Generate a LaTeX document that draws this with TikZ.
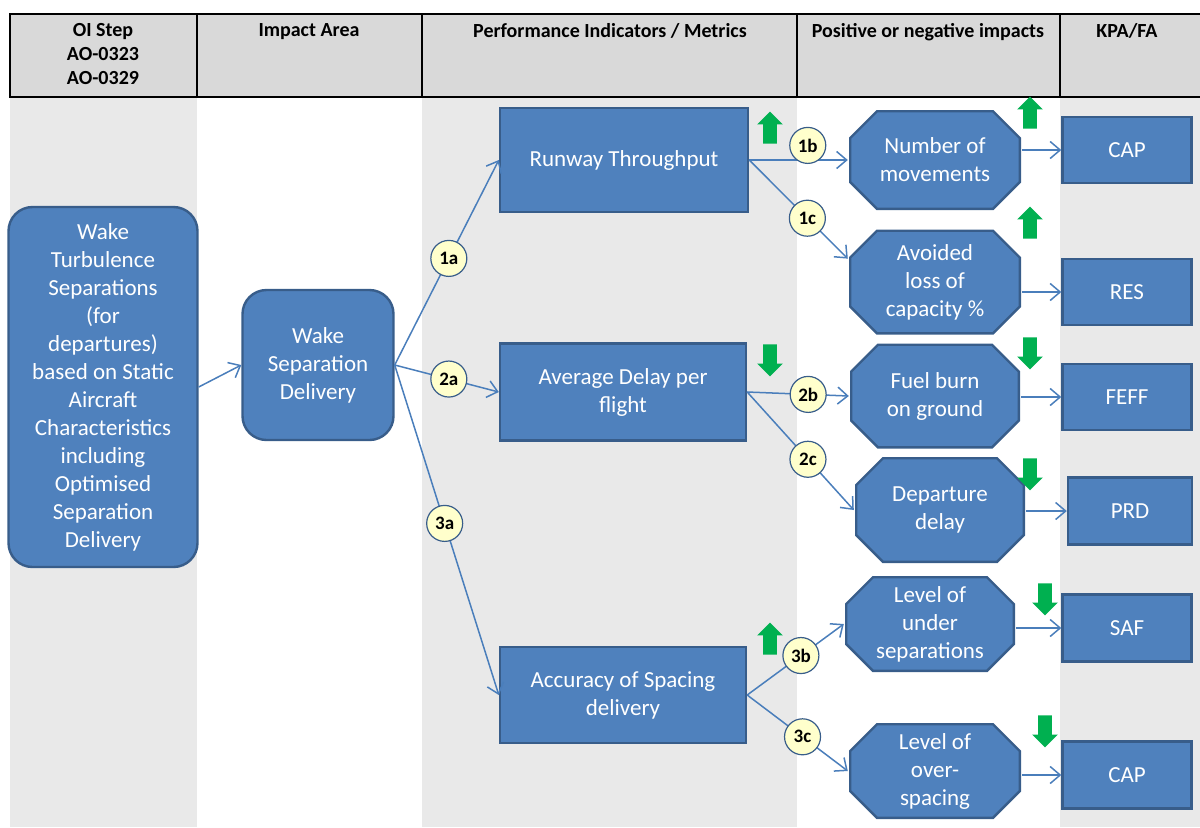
\documentclass[tikz,border=0pt]{standalone}
\usepackage{fontspec}
\setmainfont{Carlito}
\usetikzlibrary{arrows.meta,shapes.arrows}

\definecolor{boxblue}{HTML}{4F81BD}
\definecolor{boxline}{HTML}{385D8A}
\definecolor{linkblue}{HTML}{4A7EBB}
\definecolor{numfill}{HTML}{FFFFCC}
\definecolor{upgreen}{HTML}{00B050}
\definecolor{bandgray}{HTML}{E9E9E9}
\definecolor{headgray}{HTML}{D9D9D9}

\begin{document}
\begin{tikzpicture}[x=0.5pt, y=-0.5pt, >={Straight Barb[length=5pt,width=8.5pt]}]
\tikzset{block/.style={draw=boxline, fill=boxblue, line width=1.2pt, rectangle, align=center, text=white, font=\fontsize{11.5}{14}\selectfont, inner sep=2pt},
  rblock/.style={block, rounded corners=12pt},
  octblock/.style={block, draw=none, fill=none, path picture={
      \path[fill=boxblue, draw=boxline, line width=1.2pt]
        ([xshift=14pt,yshift=-0.6pt]path picture bounding box.north west)
        -- ([xshift=-14pt,yshift=-0.6pt]path picture bounding box.north east)
        -- ([xshift=-0.6pt,yshift=-14pt]path picture bounding box.north east)
        -- ([xshift=-0.6pt,yshift=14pt]path picture bounding box.south east)
        -- ([xshift=-14pt,yshift=0.6pt]path picture bounding box.south east)
        -- ([xshift=14pt,yshift=0.6pt]path picture bounding box.south west)
        -- ([xshift=0.6pt,yshift=14pt]path picture bounding box.south west)
        -- ([xshift=0.6pt,yshift=-14pt]path picture bounding box.north west)
        -- cycle;}},
  num/.style={circle, draw=boxline, fill=numfill, line width=0.6pt, minimum size=18pt, inner sep=0pt, text=black, font=\bfseries\fontsize{9.5}{10}\selectfont},
  link/.style={draw=linkblue, line width=0.75pt, ->},
  uparrow/.style={single arrow, fill=upgreen, draw=none, shape border rotate=90, minimum height=16pt, inner sep=3.2pt, single arrow head extend=3pt, single arrow head indent=0pt},
  downarrow/.style={uparrow, shape border rotate=270},
  headtext/.style={anchor=north, align=center, font=\bfseries\fontsize{10}{12}\selectfont, inner sep=2pt}
}

\useasboundingbox (0,0) rectangle (1200,827);

% column bands
\fill[bandgray] (10,97) rectangle (197,827);
\fill[bandgray] (422,97) rectangle (797,827);
\fill[bandgray] (1060,97) rectangle (1200,827);

% header row
\foreach \l/\r in {10/197,197/422,422/797,797/1060,1060/1203}
  \draw[fill=headgray, line width=0.75pt] (\l,14) rectangle (\r,97);
\node[headtext] (hstep) at (103,19) {OI Step\\AO-0323\\AO-0329};
\node[headtext] (harea) at (309,19) {Impact Area};
\node[headtext] (hmetric) at (610,19) {Performance Indicators / Metrics};
\node[headtext] (himpact) at (928,19) {Positive or negative impacts};
\node[headtext] (hkpa) at (1127,19) {KPA/FA};

% OI step and impact area
\node[rblock, minimum width=94.5pt, minimum height=180pt] (oistep) at (103,387) {Wake\\Turbulence\\Separations\\(for\\departures)\\based on Static\\Aircraft\\Characteristics\\including\\Optimised\\Separation\\Delivery};
\node[rblock, minimum width=75.5pt, minimum height=75pt] (wakesep) at (318,365) {Wake\\Separation\\Delivery};

% metrics
\node[block, minimum width=124pt, minimum height=52pt] (throughput) at (624,160) {Runway Throughput};
\node[block, minimum width=123pt, minimum height=48.5pt] (delay) at (623,392) {Average Delay per\\flight};
\node[block, minimum width=123pt, minimum height=48pt] (accuracy) at (623,695) {Accuracy of Spacing\\delivery};

% impacts
\node[octblock, minimum width=86pt, minimum height=50pt] (movements) at (935,160) {Number of\\movements};
\node[octblock, minimum width=86pt, minimum height=52.5pt] (lossofcap) at (935,282) {Avoided\\loss of\\capacity \%};
\node[octblock, minimum width=85pt, minimum height=52.5pt] (fuelburn) at (935,396) {Fuel burn\\on ground};
\node[octblock, minimum width=85pt, minimum height=53pt] (depdelay) at (940,510) {Departure\\delay};
\node[octblock, minimum width=85pt, minimum height=48pt] (undersep) at (930,624) {Level of\\under\\separations};
\node[octblock, minimum width=86pt, minimum height=48pt] (overspace) at (935,771) {Level of\\over-\\spacing};

% KPA/FA
\node[block, minimum width=64.5pt, minimum height=33pt] (cap) at (1127,150) {CAP};
\node[block, minimum width=64.5pt, minimum height=33pt] (res) at (1127,292) {RES};
\node[block, minimum width=64.5pt, minimum height=33pt] (feff) at (1127,397) {FEFF};
\node[block, minimum width=62pt, minimum height=33.5pt] (prd) at (1130,511) {PRD};
\node[block, minimum width=64.5pt, minimum height=33.5pt] (saf) at (1127,628) {SAF};
\node[block, minimum width=64.5pt, minimum height=33.5pt] (captwo) at (1127,775) {CAP};

% trend arrows
\node[uparrow] (uprunway) at (770,131) {};
\node[uparrow] (upmoves) at (1030,116) {};
\node[uparrow] (uploss) at (1030,226) {};
\node[downarrow] (downdelay) at (770,357) {};
\node[downarrow] (downfuel) at (1030,350) {};
\node[downarrow] (downdep) at (1030,471) {};
\node[uparrow] (upaccuracy) at (770,642) {};
\node[downarrow] (downsaf) at (1045,596) {};
\node[downarrow] (downcap) at (1045,728) {};

% connectors
\draw[link] (oistep.east) -- (wakesep.west);
\draw[link] (wakesep.east) -- (throughput.west) node[num, pos=0.52] (c1a) {1a};
\draw[link] (wakesep.east) -- (delay.west) node[num, pos=0.52] (c2a) {2a};
\draw[link] (wakesep.east) -- (accuracy.west) node[num, pos=0.48] (c3a) {3a};
\draw[link] (throughput.east) -- (movements.west) node[num, pos=0.594, above=-2pt] (c1b) {1b};
\draw[link] (throughput.east) -- (lossofcap.165) node[num, pos=0.59] (c1c) {1c};
\draw[link] (delay.east) -- (fuelburn.west) node[num, pos=0.6] (c2b) {2b};
\draw[link] (delay.east) -- (depdelay.west) node[num, pos=0.57] (c2c) {2c};
\draw[link] (accuracy.east) -- (undersep.west) node[num, pos=0.556] (c3b) {3b};
\draw[link] (accuracy.east) -- (overspace.west) node[num, pos=0.55] (c3c) {3c};

\draw[link] (movements.east |- cap.west) -- (cap.west);
\draw[link] (lossofcap.east |- res.west) -- (res.west);
\draw[link] (fuelburn.east |- feff.west) -- (feff.west);
\draw[link] (depdelay.east |- prd.west) -- (prd.west);
\draw[link] (undersep.east |- saf.west) -- (saf.west);
\draw[link] (overspace.east |- captwo.west) -- (captwo.west);

\end{tikzpicture}
\end{document}
